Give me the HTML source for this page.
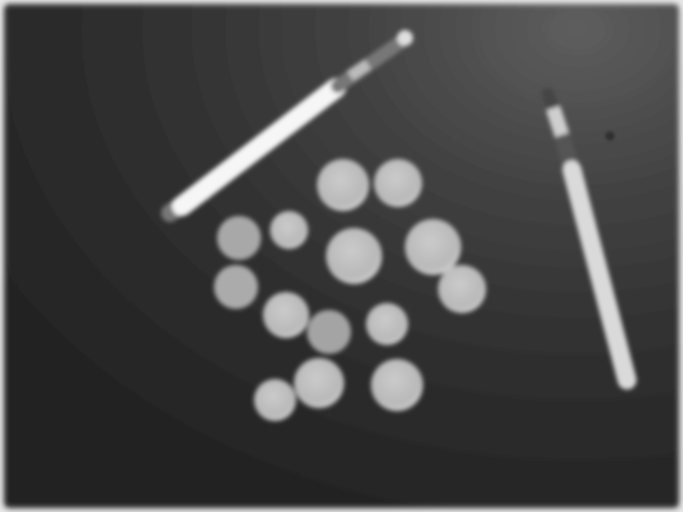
<!DOCTYPE html>
<html><head><meta charset="utf-8"><style>
html,body{margin:0;padding:0;background:#222;}
svg{display:block}
</style></head><body>
<svg width="683" height="512" viewBox="0 0 683 512">
<defs>
<filter id="b" x="-20%" y="-20%" width="140%" height="140%"><feGaussianBlur stdDeviation="2.5"/></filter>
<filter id="bb"><feGaussianBlur stdDeviation="3"/></filter>
<radialGradient id="bg" cx="0.85" cy="0.05" r="1.05">
<stop offset="0" stop-color="#5e5e5e"/><stop offset="0.3" stop-color="#434343"/><stop offset="0.6" stop-color="#303030"/><stop offset="1" stop-color="#222"/>
</radialGradient>
<radialGradient id="coin" cx="0.45" cy="0.4" r="0.6">
<stop offset="0" stop-color="#cbcbcb"/><stop offset="0.8" stop-color="#b8b8b8"/><stop offset="1" stop-color="#d2d2d2"/>
</radialGradient>
</defs>
<rect width="683" height="512" fill="#e8e8e8"/>
<rect x="4" y="4" width="675" height="504" rx="5" fill="url(#bg)" filter="url(#bb)"/>
<g filter="url(#b)">
<g>
<line x1="170" y1="213" x2="182" y2="205" stroke="#777" stroke-width="18" stroke-linecap="round"/>
<line x1="182" y1="206" x2="336" y2="88" stroke="#f6f6f6" stroke-width="20" stroke-linecap="round"/>
<line x1="338" y1="86" x2="398" y2="44" stroke="#777" stroke-width="14" stroke-linecap="round"/>
<line x1="350" y1="76" x2="368" y2="64" stroke="#bbb" stroke-width="12"/>
<circle cx="405" cy="38" r="8" fill="#e0e0e0"/>
</g>
<g>
<line x1="548" y1="94" x2="552" y2="105" stroke="#444" stroke-width="12" stroke-linecap="round"/>
<line x1="553" y1="108" x2="562" y2="135" stroke="#cfcfcf" stroke-width="15"/>
<line x1="562" y1="135" x2="572" y2="170" stroke="#555" stroke-width="16"/>
<line x1="572" y1="170" x2="627" y2="380" stroke="#dadada" stroke-width="19" stroke-linecap="round"/>
</g>
<circle cx="610" cy="136" r="3" fill="#111"/>
<g fill="url(#coin)">
<circle cx="343" cy="185" r="26"/>
<circle cx="398" cy="183" r="24"/>
<circle cx="239" cy="238" r="22" fill="#a8a8a8"/>
<circle cx="289" cy="230" r="19"/>
<circle cx="354" cy="256" r="28"/>
<circle cx="433" cy="247" r="28"/>
<circle cx="236" cy="287" r="22" fill="#ababab"/>
<circle cx="286" cy="315" r="23"/>
<circle cx="329" cy="332" r="22" fill="#a4a4a4"/>
<circle cx="387" cy="324" r="21"/>
<circle cx="462" cy="289" r="24"/>
<circle cx="319" cy="383" r="25"/>
<circle cx="397" cy="385" r="26"/>
<circle cx="275" cy="400" r="21"/>
</g>
</g>
</svg>
</body></html>
